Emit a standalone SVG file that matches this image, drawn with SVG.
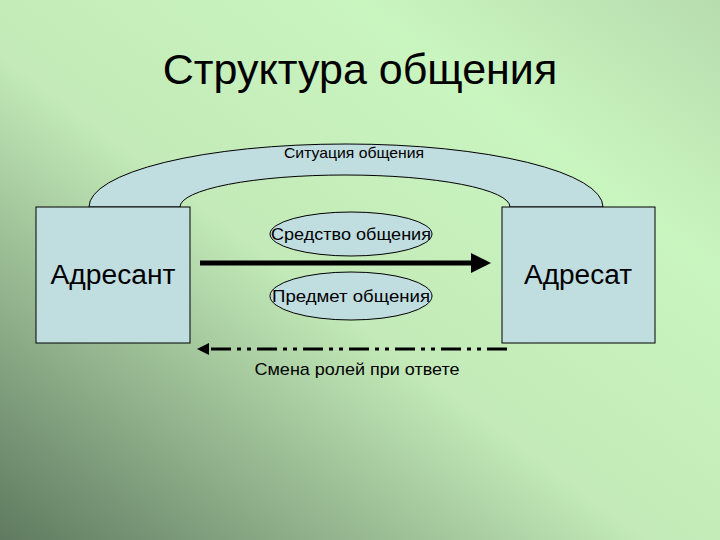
<svg xmlns="http://www.w3.org/2000/svg" width="720" height="540" viewBox="0 0 720 540">
<defs>
<linearGradient id="bg" x1="0" y1="1" x2="1" y2="0">
<stop offset="0" stop-color="#5f7a60"/>
<stop offset="0.45" stop-color="#c3eab8"/>
<stop offset="0.75" stop-color="#c9f5bf"/>
<stop offset="1" stop-color="#b7dcae"/>
</linearGradient>
<marker id="ah" markerWidth="4" markerHeight="4" refX="3" refY="2" orient="auto" markerUnits="strokeWidth"><path d="M0,0 L4,2 L0,4 Z" fill="#000"/></marker>
</defs>
<style>
.box{fill:#c0dde0;stroke:#000;stroke-width:1}
.t{font-family:"Liberation Sans",Arial,sans-serif;fill:#000}
</style>
<rect width="720" height="540" fill="url(#bg)"/>
<text class="t" x="360" y="84" font-size="43" text-anchor="middle">Структура общения</text>
<g id="situation">
<path class="box" d="M89,207 A257,63 0 0 1 603,207 L510,207 A165,32 0 0 0 180,207 Z"/>
<text class="t" x="354" y="158" font-size="15" text-anchor="middle" textLength="140" lengthAdjust="spacingAndGlyphs">Ситуация общения</text>
</g>
<g id="adresant"><rect class="box" x="36" y="207" width="154" height="136"/>
<text class="t" x="113" y="284" font-size="27" text-anchor="middle" textLength="125" lengthAdjust="spacingAndGlyphs">Адресант</text></g>
<g id="adresat"><rect class="box" x="502" y="207" width="153" height="136"/>
<text class="t" x="578" y="284" font-size="27" text-anchor="middle" textLength="108" lengthAdjust="spacingAndGlyphs">Адресат</text></g>
<g id="sredstvo"><ellipse class="box" cx="351" cy="234" rx="81" ry="22"/>
<text class="t" x="351" y="240" font-size="17" text-anchor="middle" textLength="160" lengthAdjust="spacingAndGlyphs">Средство общения</text></g>
<g id="predmet"><ellipse class="box" cx="351" cy="296" rx="81" ry="24"/>
<text class="t" x="351" y="302" font-size="17" text-anchor="middle" textLength="158" lengthAdjust="spacingAndGlyphs">Предмет общения</text></g>
<g id="connectors">
<line x1="200" y1="263" x2="486" y2="263" stroke="#000" stroke-width="5" marker-end="url(#ah)"/>
<line x1="507" y1="349" x2="200" y2="349" stroke="#000" stroke-width="3" stroke-dasharray="20 6 4 6 4 6" marker-end="url(#ah)"/>
</g>
<text class="t" x="357" y="375" font-size="17" text-anchor="middle" textLength="205" lengthAdjust="spacingAndGlyphs">Смена ролей при ответе</text>
</svg>
